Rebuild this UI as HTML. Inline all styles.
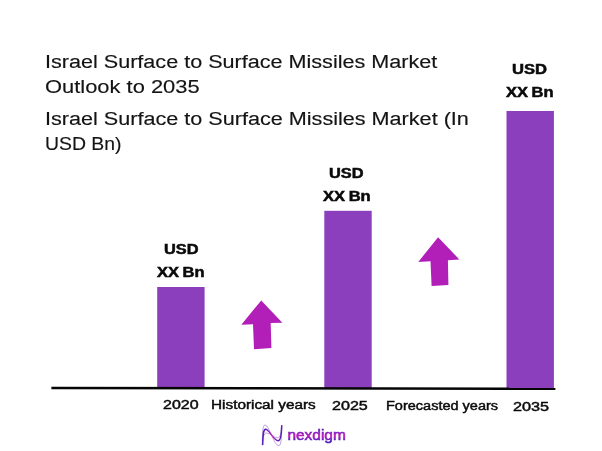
<!DOCTYPE html>
<html lang="en">
<head>
<meta charset="utf-8">
<title>Israel Surface to Surface Missiles Market Outlook to 2035</title>
<style>
html,body{margin:0;padding:0;background:#fff;}
body{width:602px;height:451px;position:relative;overflow:hidden;font-family:"Liberation Sans",sans-serif;color:#111;}
.t{position:absolute;white-space:nowrap;line-height:1;transform-origin:0 0;display:block;}
.title{font-size:19.5px;color:#141414;-webkit-text-stroke:0.15px #141414;}
.lab{font-size:13.5px;word-spacing:-0.8px;font-weight:bold;color:#0a0a0a;-webkit-text-stroke:0.5px #0a0a0a;}
.ax{font-size:13px;color:#0a0a0a;-webkit-text-stroke:0.45px #0a0a0a;}
svg{position:absolute;left:0;top:0;}
</style>
</head>
<body>

<svg width="602" height="451" viewBox="0 0 602 451">
  <rect x="157.2" y="287" width="47.4" height="101.5" fill="#8b3fbd"/>
  <rect x="324.3" y="210.8" width="47.4" height="177.9" fill="#8b3fbd"/>
  <rect x="506.5" y="111" width="47.4" height="277.9" fill="#8b3fbd"/>
  <line x1="51.4" y1="387.95" x2="555.4" y2="388.8" stroke="#050505" stroke-width="2.4"/>
  <polygon points="261.2,300.4 282.4,322.7 270.7,323.1 271.4,347.9 254,349.2 253,324.3 241.3,324.7" fill="#b11eb8"/>
  <polygon points="438.1,237.2 459.4,259.6 447.9,260.3 448.4,284.9 431.6,286 430.5,261.3 418.3,261.9" fill="#b11eb8"/>
  <defs>
    <linearGradient id="ig" gradientUnits="userSpaceOnUse" x1="262" y1="0" x2="282" y2="0">
      <stop offset="0" stop-color="#5a22b4"/><stop offset="0.22" stop-color="#5a1cb0"/><stop offset="0.5" stop-color="#c02cc0"/><stop offset="0.8" stop-color="#5a1cb0"/><stop offset="1" stop-color="#5a22b4"/>
    </linearGradient>
    <linearGradient id="tg" gradientUnits="userSpaceOnUse" x1="0" y1="428" x2="0" y2="444">
      <stop offset="0" stop-color="#4a1ab4"/><stop offset="0.25" stop-color="#7a1cbc"/><stop offset="0.5" stop-color="#c41ab8"/><stop offset="0.75" stop-color="#5a1ec0"/><stop offset="1" stop-color="#4a20c4"/>
    </linearGradient>
  </defs>
  <g fill="none" stroke="url(#ig)" stroke-linecap="round">
    <path d="M262.7,444.5 C262.9,436 263.2,429.3 265.6,429.3 C269.5,429.3 273.5,440.7 278.2,440.7 C281,440.7 281.5,434 281.7,425.7" stroke-width="1.5"/>
    <path d="M262.3,444.7 C262.3,434 262.5,425 265,425 C269.5,425 273.5,445.7 278.8,445.7 C281.5,445.7 281.6,436 281.7,425.7" stroke-width="0.6" opacity="0.7"/>
    <path d="M262.3,444.7 C262.8,439 263.5,433 266.5,433 C270,433 273.5,437.7 277.5,437.7 C280.5,437.7 281.3,432 281.7,425.7" stroke-width="0.6" opacity="0.7"/>
  </g>
  <text x="287.4" y="439.9" font-family="Liberation Sans, sans-serif" font-size="14.5" textLength="58.4" lengthAdjust="spacingAndGlyphs" fill="url(#tg)" stroke="url(#tg)" stroke-width="0.55">nexdigm</text>
</svg>
<div class="t title" style="left:45.02px;top:53.01px;font-size:18.8px;transform:scaleX(1.1492);">Israel Surface to Surface Missiles Market</div>
<div class="t title" style="left:45.12px;top:78.01px;font-size:18.8px;transform:scaleX(1.1661);">Outlook to 2035</div>
<div class="t title" style="left:45.02px;top:109.96px;font-size:18.8px;transform:scaleX(1.1504);">Israel Surface to Surface Missiles Market (In</div>
<div class="t title" style="left:44.96px;top:134.91px;font-size:18.8px;transform:scaleX(1.0328);">USD Bn)</div>
<div class="t lab" style="left:163.90px;top:242.99px;font-size:13.8px;transform:scaleX(1.1858);">USD</div>
<div class="t lab" style="left:157.32px;top:265.94px;font-size:13.8px;transform:scaleX(1.1924);">XX Bn</div>
<div class="t lab" style="left:328.90px;top:166.89px;font-size:13.8px;transform:scaleX(1.1858);">USD</div>
<div class="t lab" style="left:323.31px;top:189.94px;font-size:13.8px;transform:scaleX(1.1975);">XX Bn</div>
<div class="t lab" style="left:511.68px;top:62.89px;font-size:13.8px;transform:scaleX(1.2022);">USD</div>
<div class="t lab" style="left:506.32px;top:85.94px;font-size:13.8px;transform:scaleX(1.1924);">XX Bn</div>
<div class="t ax" style="left:162.92px;top:398.89px;font-size:12.5px;transform:scaleX(1.2771);">2020</div>
<div class="t ax" style="left:211.08px;top:398.89px;font-size:12.5px;transform:scaleX(1.2260);">Historical years</div>
<div class="t ax" style="left:331.86px;top:400.04px;font-size:12.5px;transform:scaleX(1.2872);">2025</div>
<div class="t ax" style="left:385.61px;top:399.89px;font-size:12.5px;transform:scaleX(1.1602);">Forecasted years</div>
<div class="t ax" style="left:512.85px;top:400.89px;font-size:12.5px;transform:scaleX(1.2982);">2035</div>
</body>
</html>
